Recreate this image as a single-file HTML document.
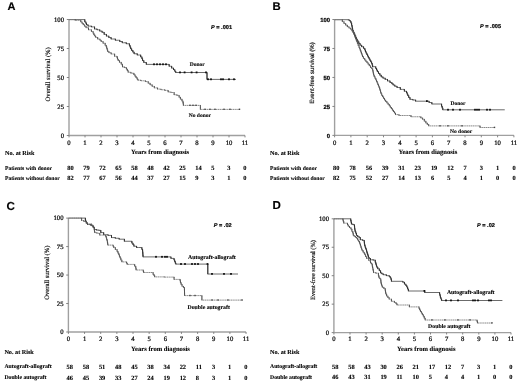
<!DOCTYPE html>
<html><head><meta charset="utf-8"><style>
html,body{margin:0;padding:0;background:#fff;}
body{width:520px;height:384px;overflow:hidden;}
svg{display:block;will-change:transform;}
text{white-space:pre;text-rendering:geometricPrecision;}
.R{font-family:"Liberation Serif",serif;}
.Rb{font-family:"Liberation Serif",serif;font-weight:bold;}
.S{font-family:"Liberation Sans",sans-serif;}
.Sb{font-family:"Liberation Sans",sans-serif;font-weight:bold;}
</style></head><body>
<svg width="520" height="384" viewBox="0 0 520 384">
<rect width="520" height="384" fill="#fff"/>
<text class="Sb" x="7.6" y="10.4" font-size="11" stroke="#000" stroke-width="0.15" >A</text>
<line x1="69" y1="19.5" x2="69" y2="135.5" stroke="#a0a0a0" stroke-width="1.4"/>
<line x1="69" y1="135.5" x2="245" y2="135.5" stroke="#a0a0a0" stroke-width="1.3"/>
<line x1="66.8" y1="135.5" x2="69" y2="135.5" stroke="#777" stroke-width="0.9"/>
<text class="R" x="64" y="137.7" font-size="6.7" text-anchor="end" stroke="#141414" stroke-width="0.24" >0</text>
<line x1="66.8" y1="106.5" x2="69" y2="106.5" stroke="#777" stroke-width="0.9"/>
<text class="R" x="64" y="108.7" font-size="6.7" text-anchor="end" stroke="#141414" stroke-width="0.24" >25</text>
<line x1="66.8" y1="77.5" x2="69" y2="77.5" stroke="#777" stroke-width="0.9"/>
<text class="R" x="64" y="79.7" font-size="6.7" text-anchor="end" stroke="#141414" stroke-width="0.24" >50</text>
<line x1="66.8" y1="48.5" x2="69" y2="48.5" stroke="#777" stroke-width="0.9"/>
<text class="R" x="64" y="50.7" font-size="6.7" text-anchor="end" stroke="#141414" stroke-width="0.24" >75</text>
<line x1="66.8" y1="19.5" x2="69" y2="19.5" stroke="#777" stroke-width="0.9"/>
<text class="R" x="64" y="21.7" font-size="6.7" text-anchor="end" stroke="#141414" stroke-width="0.24" >100</text>
<line x1="69" y1="135.5" x2="69" y2="137.4" stroke="#777" stroke-width="0.9"/>
<text class="R" x="69" y="144.6" font-size="6.7" text-anchor="middle" stroke="#141414" stroke-width="0.24" >0</text>
<line x1="85" y1="135.5" x2="85" y2="137.4" stroke="#777" stroke-width="0.9"/>
<text class="R" x="85" y="144.6" font-size="6.7" text-anchor="middle" stroke="#141414" stroke-width="0.24" >1</text>
<line x1="101" y1="135.5" x2="101" y2="137.4" stroke="#777" stroke-width="0.9"/>
<text class="R" x="101" y="144.6" font-size="6.7" text-anchor="middle" stroke="#141414" stroke-width="0.24" >2</text>
<line x1="117" y1="135.5" x2="117" y2="137.4" stroke="#777" stroke-width="0.9"/>
<text class="R" x="117" y="144.6" font-size="6.7" text-anchor="middle" stroke="#141414" stroke-width="0.24" >3</text>
<line x1="133" y1="135.5" x2="133" y2="137.4" stroke="#777" stroke-width="0.9"/>
<text class="R" x="133" y="144.6" font-size="6.7" text-anchor="middle" stroke="#141414" stroke-width="0.24" >4</text>
<line x1="149" y1="135.5" x2="149" y2="137.4" stroke="#777" stroke-width="0.9"/>
<text class="R" x="149" y="144.6" font-size="6.7" text-anchor="middle" stroke="#141414" stroke-width="0.24" >5</text>
<line x1="165" y1="135.5" x2="165" y2="137.4" stroke="#777" stroke-width="0.9"/>
<text class="R" x="165" y="144.6" font-size="6.7" text-anchor="middle" stroke="#141414" stroke-width="0.24" >6</text>
<line x1="181" y1="135.5" x2="181" y2="137.4" stroke="#777" stroke-width="0.9"/>
<text class="R" x="181" y="144.6" font-size="6.7" text-anchor="middle" stroke="#141414" stroke-width="0.24" >7</text>
<line x1="197" y1="135.5" x2="197" y2="137.4" stroke="#777" stroke-width="0.9"/>
<text class="R" x="197" y="144.6" font-size="6.7" text-anchor="middle" stroke="#141414" stroke-width="0.24" >8</text>
<line x1="213" y1="135.5" x2="213" y2="137.4" stroke="#777" stroke-width="0.9"/>
<text class="R" x="213" y="144.6" font-size="6.7" text-anchor="middle" stroke="#141414" stroke-width="0.24" >9</text>
<line x1="229" y1="135.5" x2="229" y2="137.4" stroke="#777" stroke-width="0.9"/>
<text class="R" x="229" y="144.6" font-size="6.7" text-anchor="middle" stroke="#141414" stroke-width="0.24" >10</text>
<line x1="245" y1="135.5" x2="245" y2="137.4" stroke="#777" stroke-width="0.9"/>
<text class="R" x="245" y="144.6" font-size="6.7" text-anchor="middle" stroke="#141414" stroke-width="0.24" >11</text>
<text class="Rb" x="131.1" y="153.5" font-size="6.5" stroke="#141414" stroke-width="0.12" >Years from diagnosis</text>
<text class="R" x="0" y="0" font-size="6.6" text-anchor="middle" stroke="#141414" stroke-width="0.16" transform="translate(49.5,74.3) rotate(-90)">Overall survival (%)</text>
<text class="Sb" x="211" y="29" font-size="5.6" stroke="#141414" stroke-width="0.22"><tspan font-style="italic">P</tspan> = .001</text>
<text class="Rb" x="5" y="155.3" font-size="6.2" stroke="#141414" stroke-width="0.12" >No. at Risk</text>
<text class="Rb" x="5" y="169.6" font-size="5.6" stroke="#141414" stroke-width="0.12" >Patients with donor</text>
<text class="Rb" x="67.2" y="169.6" font-size="6.4" stroke="#141414" stroke-width="0.12" >80</text>
<text class="Rb" x="83.2" y="169.6" font-size="6.4" stroke="#141414" stroke-width="0.12" >79</text>
<text class="Rb" x="99.2" y="169.6" font-size="6.4" stroke="#141414" stroke-width="0.12" >72</text>
<text class="Rb" x="115.2" y="169.6" font-size="6.4" stroke="#141414" stroke-width="0.12" >65</text>
<text class="Rb" x="131.2" y="169.6" font-size="6.4" stroke="#141414" stroke-width="0.12" >58</text>
<text class="Rb" x="147.2" y="169.6" font-size="6.4" stroke="#141414" stroke-width="0.12" >48</text>
<text class="Rb" x="163.2" y="169.6" font-size="6.4" stroke="#141414" stroke-width="0.12" >42</text>
<text class="Rb" x="179.2" y="169.6" font-size="6.4" stroke="#141414" stroke-width="0.12" >25</text>
<text class="Rb" x="195.2" y="169.6" font-size="6.4" stroke="#141414" stroke-width="0.12" >14</text>
<text class="Rb" x="211.2" y="169.6" font-size="6.4" stroke="#141414" stroke-width="0.12" >5</text>
<text class="Rb" x="227.2" y="169.6" font-size="6.4" stroke="#141414" stroke-width="0.12" >3</text>
<text class="Rb" x="243.2" y="169.6" font-size="6.4" stroke="#141414" stroke-width="0.12" >0</text>
<text class="Rb" x="5" y="180.4" font-size="5.6" stroke="#141414" stroke-width="0.12" >Patients without donor</text>
<text class="Rb" x="67.2" y="180.4" font-size="6.4" stroke="#141414" stroke-width="0.12" >82</text>
<text class="Rb" x="83.2" y="180.4" font-size="6.4" stroke="#141414" stroke-width="0.12" >77</text>
<text class="Rb" x="99.2" y="180.4" font-size="6.4" stroke="#141414" stroke-width="0.12" >67</text>
<text class="Rb" x="115.2" y="180.4" font-size="6.4" stroke="#141414" stroke-width="0.12" >56</text>
<text class="Rb" x="131.2" y="180.4" font-size="6.4" stroke="#141414" stroke-width="0.12" >44</text>
<text class="Rb" x="147.2" y="180.4" font-size="6.4" stroke="#141414" stroke-width="0.12" >37</text>
<text class="Rb" x="163.2" y="180.4" font-size="6.4" stroke="#141414" stroke-width="0.12" >27</text>
<text class="Rb" x="179.2" y="180.4" font-size="6.4" stroke="#141414" stroke-width="0.12" >15</text>
<text class="Rb" x="195.2" y="180.4" font-size="6.4" stroke="#141414" stroke-width="0.12" >9</text>
<text class="Rb" x="211.2" y="180.4" font-size="6.4" stroke="#141414" stroke-width="0.12" >3</text>
<text class="Rb" x="227.2" y="180.4" font-size="6.4" stroke="#141414" stroke-width="0.12" >1</text>
<text class="Rb" x="243.2" y="180.4" font-size="6.4" stroke="#141414" stroke-width="0.12" >0</text>
<text class="Rb" x="189.75" y="66.3" font-size="5.5" stroke="#141414" stroke-width="0.12" >Donor</text>
<text class="Rb" x="188.75" y="117.3" font-size="5.5" stroke="#141414" stroke-width="0.12" >No donor</text>
<polyline points="69,19.6 84,19.6 84.8,19.6 84.8,21.9 85.6,21.9 85.9,21.9 85.9,23.35 86.5,23.35 86.5,24.8 86.8,24.8 88.05,24.8 88.05,26.1 89.3,26.1 91.4,26.1 91.4,26.9 93.5,26.9 94.55,26.9 94.55,29 95.6,29 97.05,29 97.05,29.8 98.5,29.8 99.75,29.8 99.75,31.1 101,31.1 102.05,31.1 102.05,32.3 103.1,32.3 104.15,32.3 104.15,34.4 105.2,34.4 106.45,34.4 106.45,36.1 107.7,36.1 108.84,36.1 108.84,37.55 111.11,37.55 111.11,39 112.25,39 115.38,39 115.38,40.25 118.5,40.25 119.75,40.25 119.75,41.5 122.25,41.5 122.25,42.75 123.5,42.75 126.3,42.75 126.3,43.75 129.1,43.75 129.42,43.75 129.42,45.42 130.05,45.42 130.05,47.08 130.68,47.08 130.68,48.75 131,48.75 131.62,48.75 131.62,50.42 132.88,50.42 132.88,52.08 134.12,52.08 134.12,53.75 134.75,53.75 137.25,53.75 137.25,55 139.75,55 140.68,55 140.68,56.9 141.6,56.9 141.93,56.9 141.93,58.75 142.57,58.75 142.57,60.6 142.9,60.6 143.82,60.6 143.82,62.5 144.75,62.5 146.32,62.5 146.32,64.4 147.9,64.4 167.9,64.4 169.15,64.4 169.15,66.25 170.4,66.25 171.65,66.25 171.65,68.1 172.9,68.1 173.53,68.1 173.53,69.67 174.78,69.67 174.78,71.25 175.4,71.25 175.7,71.25 175.7,72.5 176,72.5 207,72.5 207,79.4 236,79.4" fill="none" stroke="#5a5a5a" stroke-width="0.9" />
<path d="M84.8 19.3V22.2M85.9 21.6V23.65M86.5 23.05V25.1M88.05 24.5V26.4M91.4 25.8V27.2M94.55 26.6V29.3M97.05 28.7V30.1M99.75 29.5V31.4M102.05 30.8V32.6M104.15 32V34.7M106.45 34.1V36.4M108.84 35.8V37.85M111.11 37.25V39.3M115.38 38.7V40.55M119.75 39.95V41.8M122.25 41.2V43.05M126.3 42.45V44.05M129.42 43.45V45.72M130.05 45.12V47.38M130.68 46.78V49.05M131.62 48.45V50.72M132.88 50.12V52.38M134.12 51.78V54.05M137.25 53.45V55.3M140.68 54.7V57.2M141.93 56.6V59.05M142.57 58.45V60.9M143.82 60.3V62.8M146.32 62.2V64.7M169.15 64.1V66.55M171.65 65.95V68.4M173.53 67.8V69.97M174.78 69.38V71.55M175.7 70.95V72.8M207 72.2V79.7" fill="none" stroke="#2a2a2a" stroke-width="0.95"/>
<rect x="153.1" y="63.4" width="1.8" height="1.8" fill="#111"/>
<rect x="156.1" y="63.4" width="1.8" height="1.8" fill="#111"/>
<rect x="159.1" y="63.4" width="1.8" height="1.8" fill="#111"/>
<rect x="162.1" y="63.4" width="1.8" height="1.8" fill="#111"/>
<rect x="165.1" y="63.4" width="1.8" height="1.8" fill="#111"/>
<rect x="179.1" y="71.5" width="1.8" height="1.8" fill="#111"/>
<rect x="183.7" y="71.5" width="1.8" height="1.8" fill="#111"/>
<rect x="190.7" y="71.5" width="1.8" height="1.8" fill="#111"/>
<rect x="195.7" y="71.5" width="1.8" height="1.8" fill="#111"/>
<rect x="205.1" y="71.5" width="1.8" height="1.8" fill="#111"/>
<rect x="207.1" y="78.4" width="1.8" height="1.8" fill="#111"/>
<rect x="210.1" y="78.4" width="1.8" height="1.8" fill="#111"/>
<rect x="220.1" y="78.4" width="1.8" height="1.8" fill="#111"/>
<rect x="222.1" y="78.4" width="1.8" height="1.8" fill="#111"/>
<rect x="228.1" y="78.4" width="1.8" height="1.8" fill="#111"/>
<rect x="233.1" y="78.4" width="1.8" height="1.8" fill="#111"/>
<polyline points="69,19.6 75.2,19.6 75.2,20.3 80.2,20.3 80.8,20.3 80.8,21.9 81.4,21.9 82.03,21.9 82.03,23.35 83.28,23.35 83.28,24.8 83.9,24.8 84.62,24.8 84.62,26.27 86.08,26.27 86.08,27.75 86.8,27.75 88.5,27.75 88.5,29.8 90.2,29.8 91.45,29.8 91.45,31.5 92.7,31.5 93.1,31.5 93.1,33.15 93.9,33.15 93.9,34.8 94.3,34.8 94.72,34.8 94.72,36.05 95.58,36.05 95.58,37.3 96,37.3 97.65,37.3 97.65,39 99.3,39 99.92,39 99.92,40.25 101.17,40.25 101.17,41.5 101.8,41.5 103.05,41.5 103.05,43.2 104.3,43.2 105.15,43.2 105.15,45.25 106,45.25 106.24,45.25 106.24,46.81 106.71,46.81 106.71,48.38 107.19,48.38 107.19,49.94 107.66,49.94 107.66,51.5 107.9,51.5 108.99,51.5 108.99,52.75 111.16,52.75 111.16,54 112.25,54 114.62,54 114.62,56.3 117,56.3 117.15,56.3 117.15,57.7 117.45,57.7 117.45,59.1 117.6,59.1 118.22,59.1 118.22,60.67 119.47,60.67 119.47,62.25 120.1,62.25 121.2,62.25 121.2,64.1 122.3,64.1 122.38,64.1 122.38,65.5 122.52,65.5 122.52,66.9 122.6,66.9 124.3,66.9 124.3,67.6 126,67.6 126.43,67.6 126.43,69.15 127.3,69.15 127.3,70.7 128.17,70.7 128.17,72.25 128.6,72.25 130.93,72.25 130.93,73.2 133.25,73.2 133.88,73.2 133.88,74.75 134.5,74.75 135.02,74.75 135.02,76.2 136.05,76.2 136.05,77.65 137.08,77.65 137.08,79.1 137.6,79.1 137.9,79.1 137.9,80.2 138.2,80.2 140.85,80.2 140.85,80.75 143.5,80.75 145.38,80.75 145.38,81.6 147.25,81.6 148.19,81.6 148.19,83.17 150.06,83.17 150.06,84.75 151,84.75 152.1,84.75 152.1,86.33 154.3,86.33 154.3,87.9 155.4,87.9 157.57,87.9 157.57,89.1 159.75,89.1 161,89.1 161,89.75 162.25,89.75 164.75,89.75 164.75,90.4 167.25,90.4 168.18,90.4 168.18,92 169.1,92 171,92 171,92.5 172.9,92.5 174.15,92.5 174.15,94.75 175.4,94.75 176.95,94.75 176.95,95.4 178.5,95.4 179.12,95.4 179.12,97.25 180.38,97.25 180.38,99.1 181,99.1 181.95,99.1 181.95,101 182.9,101 183,101 183,102.47 183.2,102.47 183.2,103.93 183.4,103.93 183.4,105.4 183.5,105.4 200.4,105.4 200.4,109.4 239.75,109.4" fill="none" stroke="#7a7a7a" stroke-width="0.9" stroke-dasharray="1.4 0.45"/>
<path d="M75.2 19.3V20.6M80.8 20V22.2M82.03 21.6V23.65M83.28 23.05V25.1M84.62 24.5V26.57M86.08 25.97V28.05M88.5 27.45V30.1M91.45 29.5V31.8M93.1 31.2V33.45M93.9 32.85V35.1M94.72 34.5V36.35M95.58 35.75V37.6M97.65 37V39.3M99.92 38.7V40.55M101.17 39.95V41.8M103.05 41.2V43.5M105.15 42.9V45.55M106.24 44.95V47.11M106.71 46.51V48.67M107.19 48.08V50.24M107.66 49.64V51.8M108.99 51.2V53.05M111.16 52.45V54.3M114.62 53.7V56.6M117.15 56V58M117.45 57.4V59.4M118.22 58.8V60.97M119.47 60.38V62.55M121.2 61.95V64.4M122.38 63.8V65.8M122.52 65.2V67.2M124.3 66.6V67.9M126.43 67.3V69.45M127.3 68.85V71M128.17 70.4V72.55M130.93 71.95V73.5M133.88 72.9V75.05M135.02 74.45V76.5M136.05 75.9V77.95M137.08 77.35V79.4M137.9 78.8V80.5M140.85 79.9V81.05M145.38 80.45V81.9M148.19 81.3V83.47M150.06 82.88V85.05M152.1 84.45V86.62M154.3 86.03V88.2M157.57 87.6V89.4M161 88.8V90.05M164.75 89.45V90.7M168.18 90.1V92.3M171 91.7V92.8M174.15 92.2V95.05M176.95 94.45V95.7M179.12 95.1V97.55M180.38 96.95V99.4M181.95 98.8V101.3M183 100.7V102.77M183.2 102.17V104.23M183.4 103.63V105.7M200.4 105.1V109.7" fill="none" stroke="#4a4a4a" stroke-width="0.9"/>
<rect x="189.3" y="104.6" width="1.4" height="1.4" fill="#444"/>
<rect x="192.3" y="104.6" width="1.4" height="1.4" fill="#444"/>
<rect x="195.3" y="104.6" width="1.4" height="1.4" fill="#444"/>
<rect x="204.3" y="108.6" width="1.4" height="1.4" fill="#444"/>
<rect x="209.3" y="108.6" width="1.4" height="1.4" fill="#444"/>
<rect x="214.3" y="108.6" width="1.4" height="1.4" fill="#444"/>
<rect x="223.3" y="108.6" width="1.4" height="1.4" fill="#444"/>
<rect x="229.3" y="108.6" width="1.4" height="1.4" fill="#444"/>
<rect x="238.8" y="108.6" width="1.4" height="1.4" fill="#444"/>
<text class="Sb" x="272.5" y="9.7" font-size="11.3" stroke="#000" stroke-width="0.15" >B</text>
<line x1="334.6" y1="19.5" x2="334.6" y2="135.4" stroke="#a0a0a0" stroke-width="1.4"/>
<line x1="334.6" y1="135.4" x2="513.9" y2="135.4" stroke="#a0a0a0" stroke-width="1.3"/>
<line x1="332.4" y1="135.4" x2="334.6" y2="135.4" stroke="#777" stroke-width="0.9"/>
<text class="Sb" x="330" y="137.5" font-size="5.9" text-anchor="end" stroke="#141414" stroke-width="0.24" >0</text>
<line x1="332.4" y1="106.43" x2="334.6" y2="106.43" stroke="#777" stroke-width="0.9"/>
<text class="Sb" x="330" y="108.53" font-size="5.9" text-anchor="end" stroke="#141414" stroke-width="0.24" >25</text>
<line x1="332.4" y1="77.45" x2="334.6" y2="77.45" stroke="#777" stroke-width="0.9"/>
<text class="Sb" x="330" y="79.55" font-size="5.9" text-anchor="end" stroke="#141414" stroke-width="0.24" >50</text>
<line x1="332.4" y1="48.48" x2="334.6" y2="48.48" stroke="#777" stroke-width="0.9"/>
<text class="Sb" x="330" y="50.58" font-size="5.9" text-anchor="end" stroke="#141414" stroke-width="0.24" >75</text>
<line x1="332.4" y1="19.5" x2="334.6" y2="19.5" stroke="#777" stroke-width="0.9"/>
<text class="Sb" x="330" y="21.6" font-size="5.9" text-anchor="end" stroke="#141414" stroke-width="0.24" >100</text>
<line x1="334.6" y1="135.4" x2="334.6" y2="137.3" stroke="#777" stroke-width="0.9"/>
<text class="R" x="334.6" y="144.5" font-size="6.7" text-anchor="middle" stroke="#141414" stroke-width="0.24" >0</text>
<line x1="350.9" y1="135.4" x2="350.9" y2="137.3" stroke="#777" stroke-width="0.9"/>
<text class="R" x="350.9" y="144.5" font-size="6.7" text-anchor="middle" stroke="#141414" stroke-width="0.24" >1</text>
<line x1="367.2" y1="135.4" x2="367.2" y2="137.3" stroke="#777" stroke-width="0.9"/>
<text class="R" x="367.2" y="144.5" font-size="6.7" text-anchor="middle" stroke="#141414" stroke-width="0.24" >2</text>
<line x1="383.5" y1="135.4" x2="383.5" y2="137.3" stroke="#777" stroke-width="0.9"/>
<text class="R" x="383.5" y="144.5" font-size="6.7" text-anchor="middle" stroke="#141414" stroke-width="0.24" >3</text>
<line x1="399.8" y1="135.4" x2="399.8" y2="137.3" stroke="#777" stroke-width="0.9"/>
<text class="R" x="399.8" y="144.5" font-size="6.7" text-anchor="middle" stroke="#141414" stroke-width="0.24" >4</text>
<line x1="416.1" y1="135.4" x2="416.1" y2="137.3" stroke="#777" stroke-width="0.9"/>
<text class="R" x="416.1" y="144.5" font-size="6.7" text-anchor="middle" stroke="#141414" stroke-width="0.24" >5</text>
<line x1="432.4" y1="135.4" x2="432.4" y2="137.3" stroke="#777" stroke-width="0.9"/>
<text class="R" x="432.4" y="144.5" font-size="6.7" text-anchor="middle" stroke="#141414" stroke-width="0.24" >6</text>
<line x1="448.7" y1="135.4" x2="448.7" y2="137.3" stroke="#777" stroke-width="0.9"/>
<text class="R" x="448.7" y="144.5" font-size="6.7" text-anchor="middle" stroke="#141414" stroke-width="0.24" >7</text>
<line x1="465" y1="135.4" x2="465" y2="137.3" stroke="#777" stroke-width="0.9"/>
<text class="R" x="465" y="144.5" font-size="6.7" text-anchor="middle" stroke="#141414" stroke-width="0.24" >8</text>
<line x1="481.3" y1="135.4" x2="481.3" y2="137.3" stroke="#777" stroke-width="0.9"/>
<text class="R" x="481.3" y="144.5" font-size="6.7" text-anchor="middle" stroke="#141414" stroke-width="0.24" >9</text>
<line x1="497.6" y1="135.4" x2="497.6" y2="137.3" stroke="#777" stroke-width="0.9"/>
<text class="R" x="497.6" y="144.5" font-size="6.7" text-anchor="middle" stroke="#141414" stroke-width="0.24" >10</text>
<line x1="513.9" y1="135.4" x2="513.9" y2="137.3" stroke="#777" stroke-width="0.9"/>
<text class="R" x="513.9" y="144.5" font-size="6.7" text-anchor="middle" stroke="#141414" stroke-width="0.24" >11</text>
<text class="Rb" x="398.4" y="153.5" font-size="6.6" stroke="#141414" stroke-width="0.12" >Years from diagnosis</text>
<text class="S" x="0" y="0" font-size="6.1" text-anchor="middle" stroke="#141414" stroke-width="0.16" transform="translate(314.2,73) rotate(-90)">Event-free survival (%)</text>
<text class="Sb" x="480" y="28.3" font-size="5.6" stroke="#141414" stroke-width="0.22"><tspan font-style="italic">P</tspan> = .005</text>
<text class="Rb" x="270" y="155.3" font-size="6.2" stroke="#141414" stroke-width="0.12" >No. at Risk</text>
<text class="Rb" x="270" y="169.6" font-size="5.6" stroke="#141414" stroke-width="0.12" >Patients with donor</text>
<text class="Rb" x="333.1" y="169.6" font-size="6.4" stroke="#141414" stroke-width="0.12" >80</text>
<text class="Rb" x="349.4" y="169.6" font-size="6.4" stroke="#141414" stroke-width="0.12" >78</text>
<text class="Rb" x="365.7" y="169.6" font-size="6.4" stroke="#141414" stroke-width="0.12" >56</text>
<text class="Rb" x="382" y="169.6" font-size="6.4" stroke="#141414" stroke-width="0.12" >39</text>
<text class="Rb" x="398.3" y="169.6" font-size="6.4" stroke="#141414" stroke-width="0.12" >31</text>
<text class="Rb" x="414.6" y="169.6" font-size="6.4" stroke="#141414" stroke-width="0.12" >23</text>
<text class="Rb" x="430.9" y="169.6" font-size="6.4" stroke="#141414" stroke-width="0.12" >19</text>
<text class="Rb" x="447.2" y="169.6" font-size="6.4" stroke="#141414" stroke-width="0.12" >12</text>
<text class="Rb" x="463.5" y="169.6" font-size="6.4" stroke="#141414" stroke-width="0.12" >7</text>
<text class="Rb" x="479.8" y="169.6" font-size="6.4" stroke="#141414" stroke-width="0.12" >3</text>
<text class="Rb" x="496.1" y="169.6" font-size="6.4" stroke="#141414" stroke-width="0.12" >1</text>
<text class="Rb" x="512.4" y="169.6" font-size="6.4" stroke="#141414" stroke-width="0.12" >0</text>
<text class="Rb" x="270" y="180.4" font-size="5.6" stroke="#141414" stroke-width="0.12" >Patients without donor</text>
<text class="Rb" x="333.1" y="180.4" font-size="6.4" stroke="#141414" stroke-width="0.12" >82</text>
<text class="Rb" x="349.4" y="180.4" font-size="6.4" stroke="#141414" stroke-width="0.12" >75</text>
<text class="Rb" x="365.7" y="180.4" font-size="6.4" stroke="#141414" stroke-width="0.12" >52</text>
<text class="Rb" x="382" y="180.4" font-size="6.4" stroke="#141414" stroke-width="0.12" >27</text>
<text class="Rb" x="398.3" y="180.4" font-size="6.4" stroke="#141414" stroke-width="0.12" >14</text>
<text class="Rb" x="414.6" y="180.4" font-size="6.4" stroke="#141414" stroke-width="0.12" >13</text>
<text class="Rb" x="430.9" y="180.4" font-size="6.4" stroke="#141414" stroke-width="0.12" >6</text>
<text class="Rb" x="447.2" y="180.4" font-size="6.4" stroke="#141414" stroke-width="0.12" >5</text>
<text class="Rb" x="463.5" y="180.4" font-size="6.4" stroke="#141414" stroke-width="0.12" >4</text>
<text class="Rb" x="479.8" y="180.4" font-size="6.4" stroke="#141414" stroke-width="0.12" >1</text>
<text class="Rb" x="496.1" y="180.4" font-size="6.4" stroke="#141414" stroke-width="0.12" >0</text>
<text class="Rb" x="512.4" y="180.4" font-size="6.4" stroke="#141414" stroke-width="0.12" >0</text>
<text class="Rb" x="450.6" y="104.8" font-size="5.5" stroke="#141414" stroke-width="0.12" >Donor</text>
<text class="Rb" x="450" y="132.6" font-size="5.5" stroke="#141414" stroke-width="0.12" >No donor</text>
<polyline points="334.6,19.7 347.6,19.7 348.2,19.7 348.2,19.9 348.8,19.9 349.3,19.9 349.3,20.5 349.8,20.5 350.2,20.5 350.2,21.4 350.6,21.4 350.95,21.4 350.95,23 351.3,23 351.6,23 351.6,25.2 351.9,25.2 352.04,25.2 352.04,26.87 352.32,26.87 352.32,28.53 352.61,28.53 352.61,30.2 352.75,30.2 353.16,30.2 353.16,32.05 353.99,32.05 353.99,33.9 354.4,33.9 354.82,33.9 354.82,35.8 355.68,35.8 355.68,37.7 356.1,37.7 356.45,37.7 356.45,39.07 357.15,39.07 357.15,40.43 357.85,40.43 357.85,41.8 358.2,41.8 358.82,41.8 358.82,43.5 360.07,43.5 360.07,45.2 360.7,45.2 361.65,45.2 361.65,46.75 363.55,46.75 363.55,48.3 364.5,48.3 364.81,48.3 364.81,50 365.44,50 365.44,51.7 365.75,51.7 366.12,51.7 366.12,53.15 366.86,53.15 366.86,54.6 367.59,54.6 367.59,56.05 368.33,56.05 368.33,57.5 368.7,57.5 369.11,57.5 369.11,58.95 369.94,58.95 369.94,60.4 370.76,60.4 370.76,61.85 371.59,61.85 371.59,63.3 372,63.3 372.2,63.3 372.2,65 372.6,65 372.6,66.7 372.8,66.7 375.3,66.7 375.72,66.7 375.72,68.37 376.55,68.37 376.55,70.03 377.38,70.03 377.38,71.7 377.8,71.7 378.48,71.7 378.48,73.43 379.85,73.43 379.85,75.17 381.22,75.17 381.22,76.9 381.9,76.9 382.99,76.9 382.99,78.15 385.16,78.15 385.16,79.4 386.25,79.4 387.5,79.4 387.5,80.95 390,80.95 390,82.5 391.25,82.5 391.88,82.5 391.88,83.75 393.12,83.75 393.12,85 393.75,85 394.84,85 394.84,86.25 397.01,86.25 397.01,87.5 398.1,87.5 400.3,87.5 400.3,89.4 402.5,89.4 404.38,89.4 404.38,91.25 406.25,91.25 406.56,91.25 406.56,92.7 407.18,92.7 407.18,94.15 407.79,94.15 407.79,95.6 408.1,95.6 408.73,95.6 408.73,97.5 409.98,97.5 409.98,99.4 410.6,99.4 412.8,99.4 412.8,100 415,100 415.62,100 415.62,101.2 416.25,101.2 426.9,101.2 429.07,101.2 429.07,102.5 431.25,102.5 431.88,102.5 431.88,104 432.5,104 441.25,104 441.57,104 441.57,106.25 441.9,106.25 442.2,106.25 442.2,108.03 442.8,108.03 442.8,109.8 443.1,109.8 504.75,109.8" fill="none" stroke="#5a5a5a" stroke-width="0.9" />
<path d="M348.2 19.4V20.2M349.3 19.6V20.8M350.2 20.2V21.7M350.95 21.1V23.3M351.6 22.7V25.5M352.04 24.9V27.17M352.32 26.57V28.83M352.61 28.23V30.5M353.16 29.9V32.35M353.99 31.75V34.2M354.82 33.6V36.1M355.68 35.5V38M356.45 37.4V39.37M357.15 38.77V40.73M357.85 40.13V42.1M358.82 41.5V43.8M360.07 43.2V45.5M361.65 44.9V47.05M363.55 46.45V48.6M364.81 48V50.3M365.44 49.7V52M366.12 51.4V53.45M366.86 52.85V54.9M367.59 54.3V56.35M368.33 55.75V57.8M369.11 57.2V59.25M369.94 58.65V60.7M370.76 60.1V62.15M371.59 61.55V63.6M372.2 63V65.3M372.6 64.7V67M375.72 66.4V68.67M376.55 68.07V70.33M377.38 69.73V72M378.48 71.4V73.73M379.85 73.13V75.47M381.22 74.87V77.2M382.99 76.6V78.45M385.16 77.85V79.7M387.5 79.1V81.25M390 80.65V82.8M391.88 82.2V84.05M393.12 83.45V85.3M394.84 84.7V86.55M397.01 85.95V87.8M400.3 87.2V89.7M404.38 89.1V91.55M406.56 90.95V93M407.18 92.4V94.45M407.79 93.85V95.9M408.73 95.3V97.8M409.98 97.2V99.7M412.8 99.1V100.3M415.62 99.7V101.5M429.07 100.9V102.8M431.88 102.2V104.3M441.57 103.7V106.55M442.2 105.95V108.33M442.8 107.73V110.1" fill="none" stroke="#2a2a2a" stroke-width="0.95"/>
<rect x="426" y="100.2" width="1.8" height="1.8" fill="#111"/>
<rect x="447.1" y="108.8" width="1.8" height="1.8" fill="#111"/>
<rect x="452.1" y="108.8" width="1.8" height="1.8" fill="#111"/>
<rect x="459.1" y="108.8" width="1.8" height="1.8" fill="#111"/>
<rect x="474.1" y="108.8" width="1.8" height="1.8" fill="#111"/>
<rect x="476.1" y="108.8" width="1.8" height="1.8" fill="#111"/>
<rect x="478.1" y="108.8" width="1.8" height="1.8" fill="#111"/>
<rect x="486.1" y="108.8" width="1.8" height="1.8" fill="#111"/>
<rect x="489.1" y="108.8" width="1.8" height="1.8" fill="#111"/>
<polyline points="334.6,19.7 341.5,19.7 342.32,19.7 342.32,21.6 343.98,21.6 343.98,23.5 344.8,23.5 345.65,23.5 345.65,25.15 347.35,25.15 347.35,26.8 348.2,26.8 349.02,26.8 349.02,28.05 350.68,28.05 350.68,29.3 351.5,29.3 352.02,29.3 352.02,31 353.08,31 353.08,32.7 353.6,32.7 353.9,32.7 353.9,34.35 354.5,34.35 354.5,36 354.8,36 355.08,36 355.08,37.4 355.65,37.4 355.65,38.8 356.22,38.8 356.22,40.2 356.5,40.2 356.81,40.2 356.81,41.85 357.44,41.85 357.44,43.5 357.75,43.5 358.19,43.5 358.19,45.5 359.06,45.5 359.06,47.5 359.5,47.5 359.77,47.5 359.77,49.03 360.32,49.03 360.32,50.57 360.88,50.57 360.88,52.1 361.43,52.1 361.43,53.63 361.98,53.63 361.98,55.17 362.53,55.17 362.53,56.7 362.8,56.7 363.43,56.7 363.43,58.35 364.68,58.35 364.68,60 365.3,60 365.87,60 365.87,61.4 367,61.4 367,62.8 368.13,62.8 368.13,64.2 368.7,64.2 369.32,64.2 369.32,65.85 370.57,65.85 370.57,67.5 371.2,67.5 371.85,67.5 371.85,68.75 372.5,68.75 372.66,68.75 372.66,70.31 372.97,70.31 372.97,71.88 373.28,71.88 373.28,73.44 373.59,73.44 373.59,75 373.75,75 374.17,75 374.17,76.67 375,76.67 375,78.33 375.83,78.33 375.83,80 376.25,80 376.56,80 376.56,81.5 377.19,81.5 377.19,83 377.82,83 377.82,84.5 378.45,84.5 378.45,86 379.08,86 379.08,87.5 379.4,87.5 379.63,87.5 379.63,89.06 380.09,89.06 380.09,90.62 380.56,90.62 380.56,92.19 381.02,92.19 381.02,93.75 381.25,93.75 381.72,93.75 381.72,95.31 382.66,95.31 382.66,96.88 383.59,96.88 383.59,98.44 384.53,98.44 384.53,100 385,100 385.62,100 385.62,101.47 386.88,101.47 386.88,102.93 388.12,102.93 388.12,104.4 388.75,104.4 389.27,104.4 389.27,105.85 390.32,105.85 390.32,107.3 391.38,107.3 391.38,108.75 391.9,108.75 392.42,108.75 392.42,110.2 393.45,110.2 393.45,111.65 394.48,111.65 394.48,113.1 395,113.1 395.5,113.1 395.5,114.6 396,114.6 399,114.6 399,115.5 411,115.5 411,116.75 420,116.75 420.88,116.75 420.88,118 422.62,118 422.62,119.25 423.5,119.25 424.27,119.25 424.27,121.12 425.83,121.12 425.83,123 426.6,123 427.3,123 427.3,124.45 428.7,124.45 428.7,125.9 429.4,125.9 479.4,125.9 480,125.9 480,127.5 480.6,127.5 494.75,127.5" fill="none" stroke="#7a7a7a" stroke-width="0.9" stroke-dasharray="1.4 0.45"/>
<path d="M342.32 19.4V21.9M343.98 21.3V23.8M345.65 23.2V25.45M347.35 24.85V27.1M349.02 26.5V28.35M350.68 27.75V29.6M352.02 29V31.3M353.08 30.7V33M353.9 32.4V34.65M354.5 34.05V36.3M355.08 35.7V37.7M355.65 37.1V39.1M356.22 38.5V40.5M356.81 39.9V42.15M357.44 41.55V43.8M358.19 43.2V45.8M359.06 45.2V47.8M359.77 47.2V49.33M360.32 48.73V50.87M360.88 50.27V52.4M361.43 51.8V53.93M361.98 53.33V55.47M362.53 54.87V57M363.43 56.4V58.65M364.68 58.05V60.3M365.87 59.7V61.7M367 61.1V63.1M368.13 62.5V64.5M369.32 63.9V66.15M370.57 65.55V67.8M371.85 67.2V69.05M372.66 68.45V70.61M372.97 70.01V72.17M373.28 71.58V73.74M373.59 73.14V75.3M374.17 74.7V76.97M375 76.37V78.63M375.83 78.03V80.3M376.56 79.7V81.8M377.19 81.2V83.3M377.82 82.7V84.8M378.45 84.2V86.3M379.08 85.7V87.8M379.63 87.2V89.36M380.09 88.76V90.92M380.56 90.33V92.49M381.02 91.89V94.05M381.72 93.45V95.61M382.66 95.01V97.17M383.59 96.58V98.74M384.53 98.14V100.3M385.62 99.7V101.77M386.88 101.17V103.23M388.12 102.63V104.7M389.27 104.1V106.15M390.32 105.55V107.6M391.38 107V109.05M392.42 108.45V110.5M393.45 109.9V111.95M394.48 111.35V113.4M395.5 112.8V114.9M399 114.3V115.8M411 115.2V117.05M420.88 116.45V118.3M422.62 117.7V119.55M424.27 118.95V121.42M425.83 120.83V123.3M427.3 122.7V124.75M428.7 124.15V126.2M480 125.6V127.8" fill="none" stroke="#4a4a4a" stroke-width="0.9"/>
<rect x="439.3" y="125.1" width="1.4" height="1.4" fill="#444"/>
<rect x="447.3" y="125.1" width="1.4" height="1.4" fill="#444"/>
<rect x="461.3" y="125.1" width="1.4" height="1.4" fill="#444"/>
<rect x="493.8" y="126.7" width="1.4" height="1.4" fill="#444"/>
<text class="Sb" x="6.5" y="209.6" font-size="11.6" stroke="#000" stroke-width="0.15" >C</text>
<line x1="68.4" y1="218.1" x2="68.4" y2="332" stroke="#a0a0a0" stroke-width="1.4"/>
<line x1="68.4" y1="332" x2="246.05" y2="332" stroke="#a0a0a0" stroke-width="1.3"/>
<line x1="66.2" y1="332" x2="68.4" y2="332" stroke="#777" stroke-width="0.9"/>
<text class="R" x="63.5" y="334.2" font-size="6.7" text-anchor="end" stroke="#141414" stroke-width="0.24" >0</text>
<line x1="66.2" y1="303.52" x2="68.4" y2="303.52" stroke="#777" stroke-width="0.9"/>
<text class="R" x="63.5" y="305.72" font-size="6.7" text-anchor="end" stroke="#141414" stroke-width="0.24" >25</text>
<line x1="66.2" y1="275.05" x2="68.4" y2="275.05" stroke="#777" stroke-width="0.9"/>
<text class="R" x="63.5" y="277.25" font-size="6.7" text-anchor="end" stroke="#141414" stroke-width="0.24" >50</text>
<line x1="66.2" y1="246.57" x2="68.4" y2="246.57" stroke="#777" stroke-width="0.9"/>
<text class="R" x="63.5" y="248.77" font-size="6.7" text-anchor="end" stroke="#141414" stroke-width="0.24" >75</text>
<line x1="66.2" y1="218.1" x2="68.4" y2="218.1" stroke="#777" stroke-width="0.9"/>
<text class="R" x="63.5" y="220.3" font-size="6.7" text-anchor="end" stroke="#141414" stroke-width="0.24" >100</text>
<line x1="68.4" y1="332" x2="68.4" y2="333.9" stroke="#777" stroke-width="0.9"/>
<text class="R" x="68.4" y="341.2" font-size="6.7" text-anchor="middle" stroke="#141414" stroke-width="0.24" >0</text>
<line x1="84.55" y1="332" x2="84.55" y2="333.9" stroke="#777" stroke-width="0.9"/>
<text class="R" x="84.55" y="341.2" font-size="6.7" text-anchor="middle" stroke="#141414" stroke-width="0.24" >1</text>
<line x1="100.7" y1="332" x2="100.7" y2="333.9" stroke="#777" stroke-width="0.9"/>
<text class="R" x="100.7" y="341.2" font-size="6.7" text-anchor="middle" stroke="#141414" stroke-width="0.24" >2</text>
<line x1="116.85" y1="332" x2="116.85" y2="333.9" stroke="#777" stroke-width="0.9"/>
<text class="R" x="116.85" y="341.2" font-size="6.7" text-anchor="middle" stroke="#141414" stroke-width="0.24" >3</text>
<line x1="133" y1="332" x2="133" y2="333.9" stroke="#777" stroke-width="0.9"/>
<text class="R" x="133" y="341.2" font-size="6.7" text-anchor="middle" stroke="#141414" stroke-width="0.24" >4</text>
<line x1="149.15" y1="332" x2="149.15" y2="333.9" stroke="#777" stroke-width="0.9"/>
<text class="R" x="149.15" y="341.2" font-size="6.7" text-anchor="middle" stroke="#141414" stroke-width="0.24" >5</text>
<line x1="165.3" y1="332" x2="165.3" y2="333.9" stroke="#777" stroke-width="0.9"/>
<text class="R" x="165.3" y="341.2" font-size="6.7" text-anchor="middle" stroke="#141414" stroke-width="0.24" >6</text>
<line x1="181.45" y1="332" x2="181.45" y2="333.9" stroke="#777" stroke-width="0.9"/>
<text class="R" x="181.45" y="341.2" font-size="6.7" text-anchor="middle" stroke="#141414" stroke-width="0.24" >7</text>
<line x1="197.6" y1="332" x2="197.6" y2="333.9" stroke="#777" stroke-width="0.9"/>
<text class="R" x="197.6" y="341.2" font-size="6.7" text-anchor="middle" stroke="#141414" stroke-width="0.24" >8</text>
<line x1="213.75" y1="332" x2="213.75" y2="333.9" stroke="#777" stroke-width="0.9"/>
<text class="R" x="213.75" y="341.2" font-size="6.7" text-anchor="middle" stroke="#141414" stroke-width="0.24" >9</text>
<line x1="229.9" y1="332" x2="229.9" y2="333.9" stroke="#777" stroke-width="0.9"/>
<text class="R" x="229.9" y="341.2" font-size="6.7" text-anchor="middle" stroke="#141414" stroke-width="0.24" >10</text>
<line x1="246.05" y1="332" x2="246.05" y2="333.9" stroke="#777" stroke-width="0.9"/>
<text class="R" x="246.05" y="341.2" font-size="6.7" text-anchor="middle" stroke="#141414" stroke-width="0.24" >11</text>
<text class="Rb" x="131" y="350.5" font-size="6.6" stroke="#141414" stroke-width="0.12" >Years from diagnosis</text>
<text class="R" x="0" y="0" font-size="6.6" text-anchor="middle" stroke="#141414" stroke-width="0.16" transform="translate(49.4,272.6) rotate(-90)">Overall survival (%)</text>
<text class="Sb" x="213.75" y="227.4" font-size="5.6" stroke="#141414" stroke-width="0.22"><tspan font-style="italic">P</tspan> = .02</text>
<text class="Rb" x="4.4" y="353.5" font-size="6.2" stroke="#141414" stroke-width="0.12" >No. at Risk</text>
<text class="Rb" x="4.4" y="368.3" font-size="5.75" stroke="#141414" stroke-width="0.12" >Autograft-allograft</text>
<text class="Rb" x="66.6" y="368.9" font-size="6.4" stroke="#141414" stroke-width="0.12" >58</text>
<text class="Rb" x="82.75" y="368.9" font-size="6.4" stroke="#141414" stroke-width="0.12" >58</text>
<text class="Rb" x="98.9" y="368.9" font-size="6.4" stroke="#141414" stroke-width="0.12" >51</text>
<text class="Rb" x="115.05" y="368.9" font-size="6.4" stroke="#141414" stroke-width="0.12" >48</text>
<text class="Rb" x="131.2" y="368.9" font-size="6.4" stroke="#141414" stroke-width="0.12" >45</text>
<text class="Rb" x="147.35" y="368.9" font-size="6.4" stroke="#141414" stroke-width="0.12" >38</text>
<text class="Rb" x="163.5" y="368.9" font-size="6.4" stroke="#141414" stroke-width="0.12" >34</text>
<text class="Rb" x="179.65" y="368.9" font-size="6.4" stroke="#141414" stroke-width="0.12" >22</text>
<text class="Rb" x="195.8" y="368.9" font-size="6.4" stroke="#141414" stroke-width="0.12" >11</text>
<text class="Rb" x="211.95" y="368.9" font-size="6.4" stroke="#141414" stroke-width="0.12" >3</text>
<text class="Rb" x="228.1" y="368.9" font-size="6.4" stroke="#141414" stroke-width="0.12" >1</text>
<text class="Rb" x="244.25" y="368.9" font-size="6.4" stroke="#141414" stroke-width="0.12" >0</text>
<text class="Rb" x="4.4" y="379" font-size="5.75" stroke="#141414" stroke-width="0.12" >Double autograft</text>
<text class="Rb" x="66.6" y="379.5" font-size="6.4" stroke="#141414" stroke-width="0.12" >46</text>
<text class="Rb" x="82.75" y="379.5" font-size="6.4" stroke="#141414" stroke-width="0.12" >45</text>
<text class="Rb" x="98.9" y="379.5" font-size="6.4" stroke="#141414" stroke-width="0.12" >39</text>
<text class="Rb" x="115.05" y="379.5" font-size="6.4" stroke="#141414" stroke-width="0.12" >33</text>
<text class="Rb" x="131.2" y="379.5" font-size="6.4" stroke="#141414" stroke-width="0.12" >27</text>
<text class="Rb" x="147.35" y="379.5" font-size="6.4" stroke="#141414" stroke-width="0.12" >24</text>
<text class="Rb" x="163.5" y="379.5" font-size="6.4" stroke="#141414" stroke-width="0.12" >19</text>
<text class="Rb" x="179.65" y="379.5" font-size="6.4" stroke="#141414" stroke-width="0.12" >12</text>
<text class="Rb" x="195.8" y="379.5" font-size="6.4" stroke="#141414" stroke-width="0.12" >8</text>
<text class="Rb" x="211.95" y="379.5" font-size="6.4" stroke="#141414" stroke-width="0.12" >3</text>
<text class="Rb" x="228.1" y="379.5" font-size="6.4" stroke="#141414" stroke-width="0.12" >1</text>
<text class="Rb" x="244.25" y="379.5" font-size="6.4" stroke="#141414" stroke-width="0.12" >0</text>
<text class="Rb" x="188.1" y="258.8" font-size="5.8" stroke="#141414" stroke-width="0.12" >Autograft-allograft</text>
<text class="Rb" x="187.5" y="308.8" font-size="5.8" stroke="#141414" stroke-width="0.12" >Double autograft</text>
<polyline points="68.4,218.1 85.4,218.1 85.4,220.1 85.7,220.1 85.7,221.68 86.3,221.68 86.3,223.25 86.6,223.25 87.55,223.25 87.55,224.5 88.5,224.5 90.38,224.5 90.38,225.1 92.25,225.1 92.71,225.1 92.71,226.35 93.64,226.35 93.64,227.6 94.1,227.6 94.42,227.6 94.42,229.5 94.75,229.5 96.62,229.5 96.62,230.1 98.5,230.1 99,230.1 99,230.4 99.5,230.4 100.8,230.4 100.8,232.6 102.1,232.6 103.67,232.6 103.67,234.75 105.25,234.75 108.08,234.75 108.08,235.4 110.9,235.4 111.5,235.4 111.5,237.6 112.1,237.6 115.3,237.6 115.3,238.25 118.5,238.25 119.12,238.25 119.12,239.2 119.75,239.2 123.75,239.2 124.38,239.2 124.38,241.25 125,241.25 131.25,241.25 131.88,241.25 131.88,243.1 132.5,243.1 132.97,243.1 132.97,244.68 133.93,244.68 133.93,246.25 134.4,246.25 136.57,246.25 136.57,247.5 138.75,247.5 141.25,247.5 141.88,247.5 141.88,249.4 142.5,249.4 142.56,249.4 142.56,250.9 142.68,250.9 142.68,252.4 142.8,252.4 142.8,253.9 142.92,253.9 142.92,255.4 143.04,255.4 143.04,256.9 143.1,256.9 170,256.9 170.95,256.9 170.95,258.4 171.9,258.4 173.75,258.4 174.06,258.4 174.06,259.97 174.68,259.97 174.68,261.53 175.29,261.53 175.29,263.1 175.6,263.1 175.8,263.1 175.8,264.1 176,264.1 207.8,264.1 207.8,274 238,274" fill="none" stroke="#5a5a5a" stroke-width="0.9" />
<path d="M85.4 217.8V220.4M85.7 219.8V221.98M86.3 221.38V223.55M87.55 222.95V224.8M90.38 224.2V225.4M92.71 224.8V226.65M93.64 226.05V227.9M94.42 227.3V229.8M96.62 229.2V230.4M99 229.8V230.7M100.8 230.1V232.9M103.67 232.3V235.05M108.08 234.45V235.7M111.5 235.1V237.9M115.3 237.3V238.55M119.12 237.95V239.5M124.38 238.9V241.55M131.88 240.95V243.4M132.97 242.8V244.98M133.93 244.38V246.55M136.57 245.95V247.8M141.88 247.2V249.7M142.56 249.1V251.2M142.68 250.6V252.7M142.8 252.1V254.2M142.92 253.6V255.7M143.04 255.1V257.2M170.95 256.6V258.7M174.06 258.1V260.27M174.68 259.67V261.83M175.29 261.23V263.4M175.8 262.8V264.4M207.8 263.8V274.3" fill="none" stroke="#2a2a2a" stroke-width="0.95"/>
<rect x="155.1" y="255.9" width="1.8" height="1.8" fill="#111"/>
<rect x="161.1" y="255.9" width="1.8" height="1.8" fill="#111"/>
<rect x="164.1" y="255.9" width="1.8" height="1.8" fill="#111"/>
<rect x="166.1" y="255.9" width="1.8" height="1.8" fill="#111"/>
<rect x="180.1" y="263.1" width="1.8" height="1.8" fill="#111"/>
<rect x="184.1" y="263.1" width="1.8" height="1.8" fill="#111"/>
<rect x="191.1" y="263.1" width="1.8" height="1.8" fill="#111"/>
<rect x="194.1" y="263.1" width="1.8" height="1.8" fill="#111"/>
<rect x="197.1" y="263.1" width="1.8" height="1.8" fill="#111"/>
<rect x="206.6" y="263.1" width="1.8" height="1.8" fill="#111"/>
<rect x="211.1" y="273" width="1.8" height="1.8" fill="#111"/>
<rect x="223.1" y="273" width="1.8" height="1.8" fill="#111"/>
<rect x="230.1" y="273" width="1.8" height="1.8" fill="#111"/>
<polyline points="68.4,218.1 81.6,218.1 81.6,220.5 83.8,220.5 83.8,221.4 86,221.4 86.47,221.4 86.47,222.65 87.43,222.65 87.43,223.9 87.9,223.9 90.4,223.9 91.33,223.9 91.33,225.75 93.17,225.75 93.17,227.6 94.1,227.6 94.21,227.6 94.21,229.27 94.42,229.27 94.42,230.93 94.64,230.93 94.64,232.6 94.75,232.6 96.92,232.6 96.92,233.25 99.1,233.25 99.75,233.25 99.75,235.1 100.4,235.1 105.4,235.1 105.7,235.1 105.7,236.4 106,236.4 106.21,236.4 106.21,237.85 106.62,237.85 106.62,239.3 107.04,239.3 107.04,240.75 107.25,240.75 107.36,240.75 107.36,242.2 107.58,242.2 107.58,243.65 107.79,243.65 107.79,245.1 107.9,245.1 112.9,245.1 113.2,245.1 113.2,246.35 113.8,246.35 113.8,247.6 114.1,247.6 115.35,247.6 115.35,249.5 116.6,249.5 117.07,249.5 117.07,251.38 118.03,251.38 118.03,253.25 118.5,253.25 118.81,253.25 118.81,254.82 119.44,254.82 119.44,256.4 119.75,256.4 120.08,256.4 120.08,258 120.4,258 120.83,258 120.83,260 121.25,260 121.88,260 121.88,261.9 122.5,261.9 126.25,261.9 126.56,261.9 126.56,263.15 127.19,263.15 127.19,264.4 127.5,264.4 133.75,264.4 134.68,264.4 134.68,266.25 135.6,266.25 135.76,266.25 135.76,268.12 136.09,268.12 136.09,270 136.25,270 143.1,270 143.26,270 143.26,271.25 143.59,271.25 143.59,272.5 143.75,272.5 152.5,272.5 153.12,272.5 153.12,274.4 153.75,274.4 154.06,274.4 154.06,275.65 154.69,275.65 154.69,276.9 155,276.9 164.38,276.9 164.38,277.1 173.75,277.1 174.07,277.1 174.07,279.4 174.4,279.4 180,279.4 180.15,279.4 180.15,280.95 180.45,280.95 180.45,282.5 180.6,282.5 181.07,282.5 181.07,284.38 182.03,284.38 182.03,286.25 182.5,286.25 183.45,286.25 183.45,287.5 184.4,287.5 184.42,287.5 184.42,289.12 184.46,289.12 184.46,290.74 184.5,290.74 184.5,292.36 184.54,292.36 184.54,293.98 184.58,293.98 184.58,295.6 184.6,295.6 201.9,295.6 201.9,300.1 242.5,300.1" fill="none" stroke="#7a7a7a" stroke-width="0.9" stroke-dasharray="1.4 0.45"/>
<path d="M81.6 217.8V220.8M83.8 220.2V221.7M86.47 221.1V222.95M87.43 222.35V224.2M91.33 223.6V226.05M93.17 225.45V227.9M94.21 227.3V229.57M94.42 228.97V231.23M94.64 230.63V232.9M96.92 232.3V233.55M99.75 232.95V235.4M105.7 234.8V236.7M106.21 236.1V238.15M106.62 237.55V239.6M107.04 239V241.05M107.36 240.45V242.5M107.58 241.9V243.95M107.79 243.35V245.4M113.2 244.8V246.65M113.8 246.05V247.9M115.35 247.3V249.8M117.07 249.2V251.68M118.03 251.07V253.55M118.81 252.95V255.12M119.44 254.52V256.7M120.08 256.1V258.3M120.83 257.7V260.3M121.88 259.7V262.2M126.56 261.6V263.45M127.19 262.85V264.7M134.68 264.1V266.55M135.76 265.95V268.43M136.09 267.82V270.3M143.26 269.7V271.55M143.59 270.95V272.8M153.12 272.2V274.7M154.06 274.1V275.95M154.69 275.35V277.2M164.38 276.6V277.4M174.07 276.8V279.7M180.15 279.1V281.25M180.45 280.65V282.8M181.07 282.2V284.68M182.03 284.07V286.55M183.45 285.95V287.8M184.42 287.2V289.42M184.46 288.82V291.04M184.5 290.44V292.66M184.54 292.06V294.28M184.58 293.68V295.9M201.9 295.3V300.4" fill="none" stroke="#4a4a4a" stroke-width="0.9"/>
<rect x="189.3" y="294.8" width="1.4" height="1.4" fill="#444"/>
<rect x="194.3" y="294.8" width="1.4" height="1.4" fill="#444"/>
<rect x="211.3" y="299.3" width="1.4" height="1.4" fill="#444"/>
<rect x="217.3" y="299.3" width="1.4" height="1.4" fill="#444"/>
<rect x="227.3" y="299.3" width="1.4" height="1.4" fill="#444"/>
<rect x="241.3" y="299.3" width="1.4" height="1.4" fill="#444"/>
<text class="Sb" x="272.4" y="209.3" font-size="11.5" stroke="#000" stroke-width="0.15" >D</text>
<line x1="333.9" y1="218.8" x2="333.9" y2="332.6" stroke="#a0a0a0" stroke-width="1.4"/>
<line x1="333.9" y1="332.6" x2="511" y2="332.6" stroke="#a0a0a0" stroke-width="1.3"/>
<line x1="331.7" y1="332.6" x2="333.9" y2="332.6" stroke="#777" stroke-width="0.9"/>
<text class="R" x="329" y="334.8" font-size="6.7" text-anchor="end" stroke="#141414" stroke-width="0.24" >0</text>
<line x1="331.7" y1="304.15" x2="333.9" y2="304.15" stroke="#777" stroke-width="0.9"/>
<text class="R" x="329" y="306.35" font-size="6.7" text-anchor="end" stroke="#141414" stroke-width="0.24" >25</text>
<line x1="331.7" y1="275.7" x2="333.9" y2="275.7" stroke="#777" stroke-width="0.9"/>
<text class="R" x="329" y="277.9" font-size="6.7" text-anchor="end" stroke="#141414" stroke-width="0.24" >50</text>
<line x1="331.7" y1="247.25" x2="333.9" y2="247.25" stroke="#777" stroke-width="0.9"/>
<text class="R" x="329" y="249.45" font-size="6.7" text-anchor="end" stroke="#141414" stroke-width="0.24" >75</text>
<line x1="331.7" y1="218.8" x2="333.9" y2="218.8" stroke="#777" stroke-width="0.9"/>
<text class="R" x="329" y="221" font-size="6.7" text-anchor="end" stroke="#141414" stroke-width="0.24" >100</text>
<line x1="333.9" y1="332.6" x2="333.9" y2="334.5" stroke="#777" stroke-width="0.9"/>
<text class="R" x="333.9" y="341.3" font-size="6.7" text-anchor="middle" stroke="#141414" stroke-width="0.24" >0</text>
<line x1="350" y1="332.6" x2="350" y2="334.5" stroke="#777" stroke-width="0.9"/>
<text class="R" x="350" y="341.3" font-size="6.7" text-anchor="middle" stroke="#141414" stroke-width="0.24" >1</text>
<line x1="366.1" y1="332.6" x2="366.1" y2="334.5" stroke="#777" stroke-width="0.9"/>
<text class="R" x="366.1" y="341.3" font-size="6.7" text-anchor="middle" stroke="#141414" stroke-width="0.24" >2</text>
<line x1="382.2" y1="332.6" x2="382.2" y2="334.5" stroke="#777" stroke-width="0.9"/>
<text class="R" x="382.2" y="341.3" font-size="6.7" text-anchor="middle" stroke="#141414" stroke-width="0.24" >3</text>
<line x1="398.3" y1="332.6" x2="398.3" y2="334.5" stroke="#777" stroke-width="0.9"/>
<text class="R" x="398.3" y="341.3" font-size="6.7" text-anchor="middle" stroke="#141414" stroke-width="0.24" >4</text>
<line x1="414.4" y1="332.6" x2="414.4" y2="334.5" stroke="#777" stroke-width="0.9"/>
<text class="R" x="414.4" y="341.3" font-size="6.7" text-anchor="middle" stroke="#141414" stroke-width="0.24" >5</text>
<line x1="430.5" y1="332.6" x2="430.5" y2="334.5" stroke="#777" stroke-width="0.9"/>
<text class="R" x="430.5" y="341.3" font-size="6.7" text-anchor="middle" stroke="#141414" stroke-width="0.24" >6</text>
<line x1="446.6" y1="332.6" x2="446.6" y2="334.5" stroke="#777" stroke-width="0.9"/>
<text class="R" x="446.6" y="341.3" font-size="6.7" text-anchor="middle" stroke="#141414" stroke-width="0.24" >7</text>
<line x1="462.7" y1="332.6" x2="462.7" y2="334.5" stroke="#777" stroke-width="0.9"/>
<text class="R" x="462.7" y="341.3" font-size="6.7" text-anchor="middle" stroke="#141414" stroke-width="0.24" >8</text>
<line x1="478.8" y1="332.6" x2="478.8" y2="334.5" stroke="#777" stroke-width="0.9"/>
<text class="R" x="478.8" y="341.3" font-size="6.7" text-anchor="middle" stroke="#141414" stroke-width="0.24" >9</text>
<line x1="494.9" y1="332.6" x2="494.9" y2="334.5" stroke="#777" stroke-width="0.9"/>
<text class="R" x="494.9" y="341.3" font-size="6.7" text-anchor="middle" stroke="#141414" stroke-width="0.24" >10</text>
<line x1="511" y1="332.6" x2="511" y2="334.5" stroke="#777" stroke-width="0.9"/>
<text class="R" x="511" y="341.3" font-size="6.7" text-anchor="middle" stroke="#141414" stroke-width="0.24" >11</text>
<text class="Rb" x="397" y="350.6" font-size="6.55" stroke="#141414" stroke-width="0.12" >Years from diagnosis</text>
<text class="R" x="0" y="0" font-size="6.35" text-anchor="middle" stroke="#141414" stroke-width="0.16" transform="translate(315.3,270.1) rotate(-90)">Event-free survival (%)</text>
<text class="Sb" x="477" y="227.4" font-size="5.6" stroke="#141414" stroke-width="0.22"><tspan font-style="italic">P</tspan> = .02</text>
<text class="Rb" x="270" y="353.5" font-size="6.2" stroke="#141414" stroke-width="0.12" >No. at Risk</text>
<text class="Rb" x="270" y="367.6" font-size="5.75" stroke="#141414" stroke-width="0.12" >Autograft-allograft</text>
<text class="Rb" x="332.1" y="368.8" font-size="6.4" stroke="#141414" stroke-width="0.12" >58</text>
<text class="Rb" x="348.2" y="368.8" font-size="6.4" stroke="#141414" stroke-width="0.12" >58</text>
<text class="Rb" x="364.3" y="368.8" font-size="6.4" stroke="#141414" stroke-width="0.12" >43</text>
<text class="Rb" x="380.4" y="368.8" font-size="6.4" stroke="#141414" stroke-width="0.12" >30</text>
<text class="Rb" x="396.5" y="368.8" font-size="6.4" stroke="#141414" stroke-width="0.12" >26</text>
<text class="Rb" x="412.6" y="368.8" font-size="6.4" stroke="#141414" stroke-width="0.12" >21</text>
<text class="Rb" x="428.7" y="368.8" font-size="6.4" stroke="#141414" stroke-width="0.12" >17</text>
<text class="Rb" x="444.8" y="368.8" font-size="6.4" stroke="#141414" stroke-width="0.12" >12</text>
<text class="Rb" x="460.9" y="368.8" font-size="6.4" stroke="#141414" stroke-width="0.12" >7</text>
<text class="Rb" x="477" y="368.8" font-size="6.4" stroke="#141414" stroke-width="0.12" >3</text>
<text class="Rb" x="493.1" y="368.8" font-size="6.4" stroke="#141414" stroke-width="0.12" >1</text>
<text class="Rb" x="509.2" y="368.8" font-size="6.4" stroke="#141414" stroke-width="0.12" >0</text>
<text class="Rb" x="270" y="378.7" font-size="5.75" stroke="#141414" stroke-width="0.12" >Double autograft</text>
<text class="Rb" x="332.1" y="379.2" font-size="6.4" stroke="#141414" stroke-width="0.12" >46</text>
<text class="Rb" x="348.2" y="379.2" font-size="6.4" stroke="#141414" stroke-width="0.12" >43</text>
<text class="Rb" x="364.3" y="379.2" font-size="6.4" stroke="#141414" stroke-width="0.12" >31</text>
<text class="Rb" x="380.4" y="379.2" font-size="6.4" stroke="#141414" stroke-width="0.12" >19</text>
<text class="Rb" x="396.5" y="379.2" font-size="6.4" stroke="#141414" stroke-width="0.12" >11</text>
<text class="Rb" x="412.6" y="379.2" font-size="6.4" stroke="#141414" stroke-width="0.12" >10</text>
<text class="Rb" x="428.7" y="379.2" font-size="6.4" stroke="#141414" stroke-width="0.12" >5</text>
<text class="Rb" x="444.8" y="379.2" font-size="6.4" stroke="#141414" stroke-width="0.12" >4</text>
<text class="Rb" x="460.9" y="379.2" font-size="6.4" stroke="#141414" stroke-width="0.12" >4</text>
<text class="Rb" x="477" y="379.2" font-size="6.4" stroke="#141414" stroke-width="0.12" >1</text>
<text class="Rb" x="493.1" y="379.2" font-size="6.4" stroke="#141414" stroke-width="0.12" >0</text>
<text class="Rb" x="509.2" y="379.2" font-size="6.4" stroke="#141414" stroke-width="0.12" >0</text>
<text class="Rb" x="446.9" y="294.3" font-size="5.8" stroke="#141414" stroke-width="0.12" >Autograft-allograft</text>
<text class="Rb" x="428.1" y="327.5" font-size="5.8" stroke="#141414" stroke-width="0.12" >Double autograft</text>
<polyline points="333.9,218.8 350.6,218.8 350.76,218.8 350.76,220.53 351.09,220.53 351.09,222.25 351.25,222.25 351.43,222.25 351.43,224.1 351.6,224.1 353,224.1 353,224.75 354.4,224.75 354.47,224.75 354.47,226.62 354.62,226.62 354.62,228.5 354.7,228.5 354.85,228.5 354.85,230.05 355.15,230.05 355.15,231.6 355.3,231.6 355.77,231.6 355.77,233.2 356.25,233.2 356.43,233.2 356.43,235.4 356.6,235.4 357.68,235.4 357.68,236.6 358.75,236.6 359.12,236.6 359.12,237.5 359.5,237.5 360.3,237.5 360.3,239.75 361.1,239.75 362.65,239.75 362.65,240.4 364.2,240.4 364.27,240.4 364.27,242.25 364.43,242.25 364.43,244.1 364.5,244.1 364.73,244.1 364.73,245.68 365.17,245.68 365.17,247.25 365.4,247.25 365.65,247.25 365.65,248.5 366.15,248.5 366.15,249.75 366.4,249.75 366.55,249.75 366.55,251 366.85,251 366.85,252.25 367,252.25 367.23,252.25 367.23,253.5 367.67,253.5 367.67,254.75 367.9,254.75 368.07,254.75 368.07,256 368.43,256 368.43,257.25 368.6,257.25 369.05,257.25 369.05,258.5 369.5,258.5 370.5,258.5 370.5,259.75 371.5,259.75 373.2,259.75 373.2,260.1 374.9,260.1 375.25,260.1 375.25,262.25 375.6,262.25 375.75,262.25 375.75,263.5 376.05,263.5 376.05,264.75 376.2,264.75 376.43,264.75 376.43,266 376.88,266 376.88,267.25 377.1,267.25 377.75,267.25 377.75,268.8 378.4,268.8 379.32,268.8 379.32,270.7 380.25,270.7 380.57,270.7 380.57,272.9 380.9,272.9 381.82,272.9 381.82,273.8 382.75,273.8 383.23,273.8 383.23,274.75 383.7,274.75 386.35,274.75 386.35,275.7 389,275.7 389.3,275.7 389.3,276.6 389.6,276.6 390.25,276.6 390.25,277.9 390.9,277.9 391.07,277.9 391.07,279.6 391.43,279.6 391.43,281.3 391.6,281.3 402.25,281.3 402.88,281.3 402.88,282.25 403.5,282.25 404.45,282.25 404.45,284.1 405.4,284.1 405.86,284.1 405.86,285.55 406.79,285.55 406.79,287 407.25,287 407.62,287 407.62,289 408.38,289 408.38,291 408.75,291 424.4,291 424.7,291 424.7,292.5 425,292.5 439.4,292.5 439.6,292.5 439.6,294.17 440,294.17 440,295.83 440.4,295.83 440.4,297.5 440.6,297.5 440.93,297.5 440.93,299 441.57,299 441.57,300.5 441.9,300.5 502.4,300.5" fill="none" stroke="#5a5a5a" stroke-width="0.9" />
<path d="M350.76 218.5V220.83M351.09 220.22V222.55M351.43 221.95V224.4M353 223.8V225.05M354.47 224.45V226.93M354.62 226.32V228.8M354.85 228.2V230.35M355.15 229.75V231.9M355.77 231.3V233.5M356.43 232.9V235.7M357.68 235.1V236.9M359.12 236.3V237.8M360.3 237.2V240.05M362.65 239.45V240.7M364.27 240.1V242.55M364.43 241.95V244.4M364.73 243.8V245.98M365.17 245.38V247.55M365.65 246.95V248.8M366.15 248.2V250.05M366.55 249.45V251.3M366.85 250.7V252.55M367.23 251.95V253.8M367.67 253.2V255.05M368.07 254.45V256.3M368.43 255.7V257.55M369.05 256.95V258.8M370.5 258.2V260.05M373.2 259.45V260.4M375.25 259.8V262.55M375.75 261.95V263.8M376.05 263.2V265.05M376.43 264.45V266.3M376.88 265.7V267.55M377.75 266.95V269.1M379.32 268.5V271M380.57 270.4V273.2M381.82 272.6V274.1M383.23 273.5V275.05M386.35 274.45V276M389.3 275.4V276.9M390.25 276.3V278.2M391.07 277.6V279.9M391.43 279.3V281.6M402.88 281V282.55M404.45 281.95V284.4M405.86 283.8V285.85M406.79 285.25V287.3M407.62 286.7V289.3M408.38 288.7V291.3M424.7 290.7V292.8M439.6 292.2V294.47M440 293.87V296.13M440.4 295.53V297.8M440.93 297.2V299.3M441.57 298.7V300.8" fill="none" stroke="#2a2a2a" stroke-width="0.95"/>
<rect x="423.5" y="290" width="1.8" height="1.8" fill="#111"/>
<rect x="445.1" y="299.5" width="1.8" height="1.8" fill="#111"/>
<rect x="450.1" y="299.5" width="1.8" height="1.8" fill="#111"/>
<rect x="457.1" y="299.5" width="1.8" height="1.8" fill="#111"/>
<rect x="472.1" y="299.5" width="1.8" height="1.8" fill="#111"/>
<rect x="474.1" y="299.5" width="1.8" height="1.8" fill="#111"/>
<rect x="477.1" y="299.5" width="1.8" height="1.8" fill="#111"/>
<rect x="488.1" y="299.5" width="1.8" height="1.8" fill="#111"/>
<rect x="490.1" y="299.5" width="1.8" height="1.8" fill="#111"/>
<polyline points="333.9,218.8 342.8,218.8 342.95,218.8 342.95,220.05 343.25,220.05 343.25,221.3 343.4,221.3 343.75,221.3 343.75,223.2 344.1,223.2 346.9,223.2 347.5,223.2 347.5,224.75 348.1,224.75 348.25,224.75 348.25,226.3 348.4,226.3 349.5,226.3 349.5,227.6 350.6,227.6 350.93,227.6 350.93,229.1 351.25,229.1 351.88,229.1 351.88,231.3 352.5,231.3 352.8,231.3 352.8,232.9 353.1,232.9 353.18,232.9 353.18,234.15 353.32,234.15 353.32,235.4 353.4,235.4 354.2,235.4 354.2,236.3 355,236.3 355.45,236.3 355.45,237.25 355.9,237.25 356.55,237.25 356.55,238.2 357.2,238.2 357.65,238.2 357.65,240 358.1,240 358.65,240 358.65,241.3 359.2,241.3 359.43,241.3 359.43,242.7 359.88,242.7 359.88,244.1 360.1,244.1 360.43,244.1 360.43,246 361.07,246 361.07,247.9 361.4,247.9 361.62,247.9 361.62,249.15 362.07,249.15 362.07,250.4 362.3,250.4 363.1,250.4 363.1,252.25 363.9,252.25 364.2,252.25 364.2,253.5 364.8,253.5 364.8,254.75 365.1,254.75 365.6,254.75 365.6,256.6 366.1,256.6 366.7,256.6 366.7,258.5 367.3,258.5 368.77,258.5 368.77,260.4 370.25,260.4 370.34,260.4 370.34,261.65 370.51,261.65 370.51,262.9 370.6,262.9 371.35,262.9 371.35,263.8 372.1,263.8 372.18,263.8 372.18,265.05 372.32,265.05 372.32,266.3 372.4,266.3 372.57,266.3 372.57,267.85 372.93,267.85 372.93,269.4 373.1,269.4 373.25,269.4 373.25,271 373.55,271 373.55,272.6 373.7,272.6 375.9,272.6 375.9,273.2 378.1,273.2 378.43,273.2 378.43,275.4 378.75,275.4 378.84,275.4 378.84,276.65 379.01,276.65 379.01,277.9 379.1,277.9 379.9,277.9 379.9,278.8 380.7,278.8 380.77,278.8 380.77,280.52 380.93,280.52 380.93,282.25 381,282.25 381.15,282.25 381.15,283.5 381.45,283.5 381.45,284.75 381.6,284.75 381.85,284.75 381.85,286 382.35,286 382.35,287.25 382.6,287.25 383.85,287.25 383.85,288.5 385.1,288.5 385.18,288.5 385.18,289.75 385.32,289.75 385.32,291 385.4,291 385.55,291 385.55,292.55 385.85,292.55 385.85,294.1 386,294.1 386.62,294.1 386.62,296 387.25,296 387.88,296 387.88,297.6 388.5,297.6 389.12,297.6 389.12,299.1 389.75,299.1 391.43,299.1 391.43,301.25 393.1,301.25 394.35,301.25 394.35,302.5 395.6,302.5 396.08,302.5 396.08,303.75 397.02,303.75 397.02,305 397.5,305 408.75,305 409.38,305 409.38,306.9 410,306.9 418.75,306.9 419.06,306.9 419.06,308.45 419.69,308.45 419.69,310 420,310 420.48,310 420.48,311.55 421.42,311.55 421.42,313.1 421.9,313.1 422.36,313.1 422.36,314.68 423.29,314.68 423.29,316.25 423.75,316.25 424.21,316.25 424.21,318.12 425.14,318.12 425.14,320 425.6,320 476.9,320 477.07,320 477.07,321.5 477.43,321.5 477.43,323 477.6,323 492.2,323" fill="none" stroke="#7a7a7a" stroke-width="0.9" stroke-dasharray="1.4 0.45"/>
<path d="M342.95 218.5V220.35M343.25 219.75V221.6M343.75 221V223.5M347.5 222.9V225.05M348.25 224.45V226.6M349.5 226V227.9M350.93 227.3V229.4M351.88 228.8V231.6M352.8 231V233.2M353.18 232.6V234.45M353.32 233.85V235.7M354.2 235.1V236.6M355.45 236V237.55M356.55 236.95V238.5M357.65 237.9V240.3M358.65 239.7V241.6M359.43 241V243M359.88 242.4V244.4M360.43 243.8V246.3M361.07 245.7V248.2M361.62 247.6V249.45M362.07 248.85V250.7M363.1 250.1V252.55M364.2 251.95V253.8M364.8 253.2V255.05M365.6 254.45V256.9M366.7 256.3V258.8M368.77 258.2V260.7M370.34 260.1V261.95M370.51 261.35V263.2M371.35 262.6V264.1M372.18 263.5V265.35M372.32 264.75V266.6M372.57 266V268.15M372.93 267.55V269.7M373.25 269.1V271.3M373.55 270.7V272.9M375.9 272.3V273.5M378.43 272.9V275.7M378.84 275.1V276.95M379.01 276.35V278.2M379.9 277.6V279.1M380.77 278.5V280.82M380.93 280.22V282.55M381.15 281.95V283.8M381.45 283.2V285.05M381.85 284.45V286.3M382.35 285.7V287.55M383.85 286.95V288.8M385.18 288.2V290.05M385.32 289.45V291.3M385.55 290.7V292.85M385.85 292.25V294.4M386.62 293.8V296.3M387.88 295.7V297.9M389.12 297.3V299.4M391.43 298.8V301.55M394.35 300.95V302.8M396.08 302.2V304.05M397.02 303.45V305.3M409.38 304.7V307.2M419.06 306.6V308.75M419.69 308.15V310.3M420.48 309.7V311.85M421.42 311.25V313.4M422.36 312.8V314.98M423.29 314.38V316.55M424.21 315.95V318.43M425.14 317.82V320.3M477.07 319.7V321.8M477.43 321.2V323.3" fill="none" stroke="#4a4a4a" stroke-width="0.9"/>
<rect x="431.3" y="319.2" width="1.4" height="1.4" fill="#444"/>
<rect x="444.3" y="319.2" width="1.4" height="1.4" fill="#444"/>
<rect x="457.3" y="319.2" width="1.4" height="1.4" fill="#444"/>
<rect x="469.3" y="319.2" width="1.4" height="1.4" fill="#444"/>
<rect x="491.3" y="322.2" width="1.4" height="1.4" fill="#444"/>
</svg>
</body></html>
